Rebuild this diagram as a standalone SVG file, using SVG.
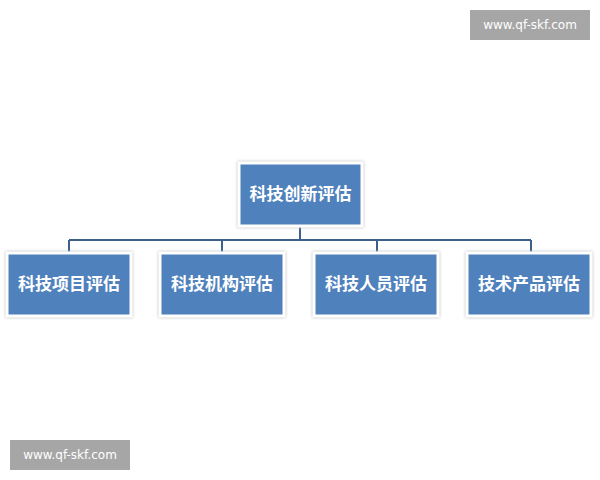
<svg xmlns="http://www.w3.org/2000/svg" width="600" height="480" viewBox="0 0 600 480">
<style>
.box{fill:#4f81bd;stroke:#fff;stroke-width:3;filter:drop-shadow(0 0 1.5px #bbb)}
.t{font-family:"Noto Sans CJK SC",sans-serif;font-size:17px;font-weight:bold;fill:#fff;text-anchor:middle}
.c{stroke:#3c6088;stroke-width:2;fill:none}
.wm{fill:#a6a6a6}
.wt{font-family:"DejaVu Sans",sans-serif;font-size:12px;fill:#fff;text-anchor:middle}
</style>
<rect width="600" height="480" fill="#fff"/>
<g id="connectors">
<path class="c" d="M300 226V240M69 240H531M69 240V254M222 240V254M377 240V254M531 240V254"/>
</g>
<g id="root"><rect class="box" x="239" y="163" width="123" height="63"/><text class="t" x="300.5" y="200">科技创新评估</text></g>
<g id="n1"><rect class="box" x="7" y="253" width="124" height="63"/><text class="t" x="69" y="290">科技项目评估</text></g>
<g id="n2"><rect class="box" x="160" y="253" width="124" height="63"/><text class="t" x="222" y="290">科技机构评估</text></g>
<g id="n3"><rect class="box" x="314" y="253" width="124" height="63"/><text class="t" x="376" y="290">科技人员评估</text></g>
<g id="n4"><rect class="box" x="467" y="253" width="124" height="63"/><text class="t" x="529" y="290">技术产品评估</text></g>
<g id="wm1"><rect class="wm" x="470" y="10" width="120" height="30"/><text class="wt" x="530" y="29">www.qf-skf.com</text></g>
<g id="wm2"><rect class="wm" x="10" y="440" width="120" height="30"/><text class="wt" x="70" y="459">www.qf-skf.com</text></g>
</svg>
